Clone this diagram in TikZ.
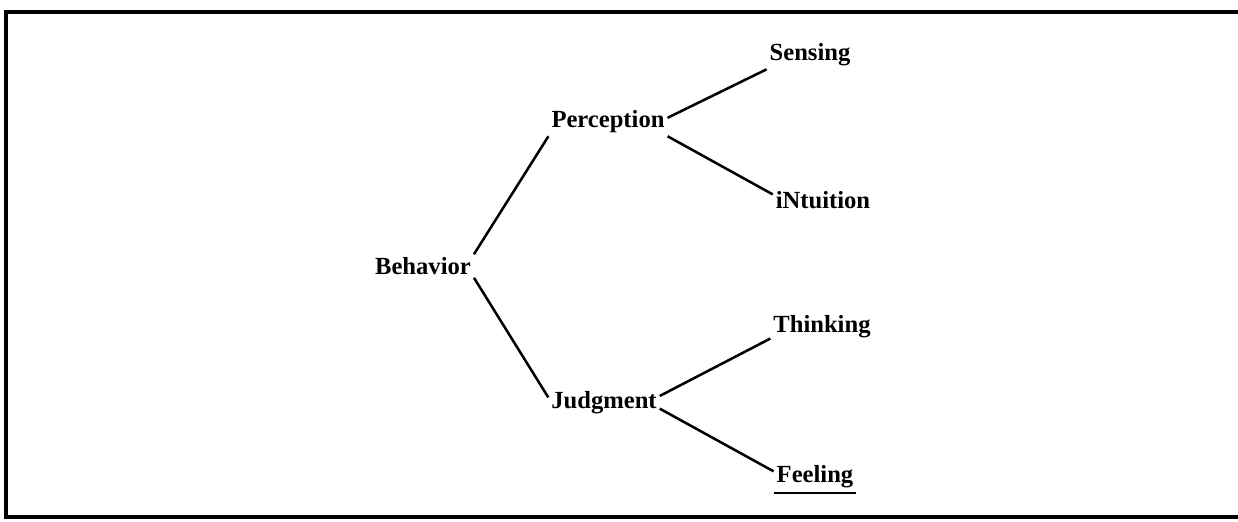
\documentclass[tikz,border=0pt]{standalone}
\usepackage{fontspec}
\setmainfont{Liberation Serif}
\usepackage{tikz}
\usetikzlibrary{positioning}

\begin{document}
\begin{tikzpicture}[
    x=0.025cm, y=-0.025cm,
    word/.style={font=\fontsize{17.5}{20}\selectfont\bfseries, inner sep=2pt},
    branch/.style={line width=1.8pt},
    frame/.style={line width=2.6pt}
]
\useasboundingbox (0,0) rectangle (1238,521);

% Frame (open on the right)
\draw[frame] (1238,12) -- (6,12) -- (6,517) -- (1238,517);

\node[word] (behavior) at (423,266) {Behavior};
\node[word] (perception) at (608,122) {Perception};
\node[word] (judgment) at (604,403) {Judgment};
\node[word] (sensing) at (810,55) {Sensing};
\node[word] (intuition) at (823,200) {iNtuition};
\node[word] (thinking) at (822,327) {Thinking};
\node[word] (feeling) at (815,477) {Feeling};

\draw[branch] (behavior.north east) -- (perception.south west);
\draw[branch] (behavior.south east) -- ([yshift=4pt]judgment.west);
\draw[branch] ([yshift=3pt]perception.east) -- (sensing.south west);
\draw[branch] (perception.south east) -- ([yshift=4pt]intuition.west);
\draw[branch] ([yshift=5pt]judgment.east) -- ([yshift=2pt]thinking.south west);
\draw[branch] ([yshift=-4pt]judgment.east) -- ([yshift=4pt]feeling.west);

% Underline
\draw[line width=1.6pt] ([yshift=-1pt]feeling.south west) -- ([yshift=-1pt]feeling.south east);

\end{tikzpicture}
\end{document}
